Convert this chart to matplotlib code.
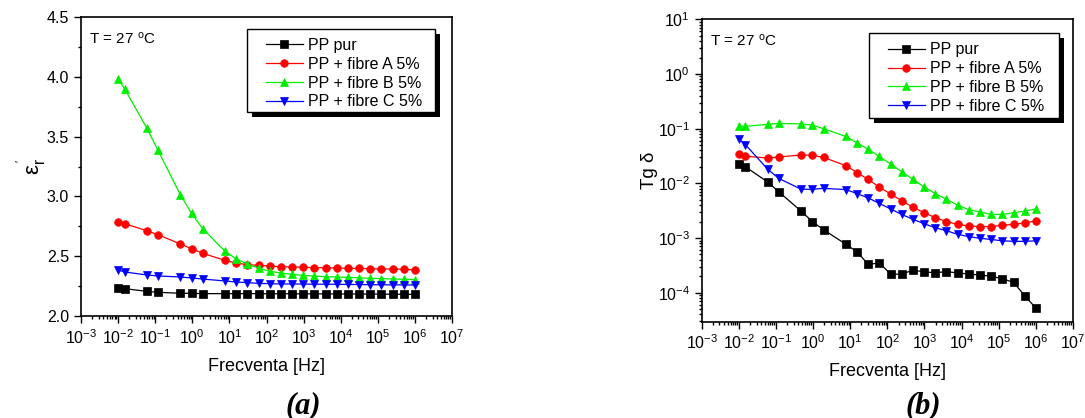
import matplotlib
matplotlib.use("Agg")
import matplotlib.pyplot as plt
from matplotlib.patches import Rectangle
from matplotlib.transforms import ScaledTranslation
from matplotlib.ticker import LogLocator, MultipleLocator, NullFormatter, FormatStrFormatter
import numpy as np

plt.rcParams['font.family'] = ['Liberation Sans', 'DejaVu Sans']
plt.rcParams['mathtext.fontset'] = 'custom'
plt.rcParams['mathtext.rm'] = 'Liberation Sans'
plt.rcParams['mathtext.it'] = 'Liberation Sans:italic'
plt.rcParams['mathtext.default'] = 'regular'

# Measurement frequencies [Hz]
freq = [0.01, 0.015, 0.0596, 0.119, 0.477, 0.954, 1.91, 7.63, 15.3, 30.5,
        61.0, 122, 244, 488, 977, 1953, 3906, 7813, 15625, 31250,
        62500, 125000, 250000, 500000, 1000000]

labels = ["PP pur", "PP + fibre A 5%", "PP + fibre B 5%", "PP + fibre C 5%"]

# Real part of the relative permittivity
eps_pur = [2.237, 2.229, 2.206, 2.198, 2.190, 2.190, 2.187, 2.187, 2.187, 2.187,
           2.187, 2.186, 2.186, 2.186, 2.185, 2.185, 2.185, 2.184, 2.184, 2.184,
           2.183, 2.183, 2.182, 2.182, 2.181]
eps_A = [2.789, 2.772, 2.713, 2.680, 2.602, 2.563, 2.524, 2.465, 2.443, 2.429,
         2.424, 2.418, 2.412, 2.410, 2.407, 2.404, 2.404, 2.401, 2.399, 2.398,
         2.396, 2.393, 2.393, 2.390, 2.387]
eps_B = [3.98, 3.90, 3.57, 3.385, 3.014, 2.858, 2.730, 2.541, 2.477, 2.435,
         2.401, 2.373, 2.360, 2.348, 2.340, 2.334, 2.329, 2.326, 2.323, 2.320,
         2.315, 2.312, 2.310, 2.307, 2.304]
eps_C = [2.385, 2.368, 2.343, 2.335, 2.326, 2.318, 2.309, 2.293, 2.284, 2.279,
         2.273, 2.270, 2.268, 2.268, 2.267, 2.266, 2.266, 2.265, 2.264, 2.263,
         2.262, 2.261, 2.260, 2.260, 2.259]

# Loss tangent
tg_pur = [0.0226, 0.0201, 0.0106, 0.0070, 0.0031, 0.0020, 0.00142, 0.00077, 0.00056, 0.00033,
          0.00035, 0.000220, 0.000217, 0.00026, 0.00024, 0.000232, 0.000243, 0.00023, 0.00022, 0.00021,
          0.00020, 0.00018, 0.000155, 0.000088, 0.0000523]
tg_A = [0.0344, 0.0313, 0.0291, 0.0303, 0.0331, 0.0326, 0.0298, 0.0211, 0.0157, 0.0118,
        0.0085, 0.0064, 0.0048, 0.00367, 0.0029, 0.00236, 0.0020, 0.00178, 0.00166, 0.00162,
        0.00162, 0.00171, 0.00178, 0.0019, 0.00204]
tg_B = [0.112, 0.110, 0.120, 0.125, 0.122, 0.116, 0.100, 0.072, 0.055, 0.042,
        0.031, 0.0226, 0.0164, 0.0118, 0.0086, 0.0065, 0.0051, 0.0040, 0.0033, 0.0030,
        0.0027, 0.0027, 0.0029, 0.0031, 0.0034]
tg_C = [0.0656, 0.0511, 0.0182, 0.0123, 0.0078, 0.0078, 0.0081, 0.0077, 0.0065, 0.0054,
        0.0043, 0.0034, 0.0027, 0.0022, 0.00183, 0.00154, 0.00136, 0.00117, 0.00106, 0.00099,
        0.00094, 0.00089, 0.00087, 0.00087, 0.00089]

colors = ["#000000", "#ff0000", "#00ee00", "#0000ff"]
markers = ["s", "o", "^", "v"]

W, H = 1085, 418
fig = plt.figure(figsize=(W / 100, H / 100), dpi=100)

ax_a = fig.add_axes([81 / W, 1 - 316 / H, 371 / W, 299 / H])
ax_b = fig.add_axes([701.7 / W, 1 - 321.7 / H, 371.3 / W, 302.4 / H])


def style_axes(ax):
    ax.set_xscale('log')
    ax.set_xlim(1e-3, 1e7)
    ax.xaxis.set_major_locator(LogLocator(base=10, numticks=20))
    ax.xaxis.set_minor_locator(LogLocator(base=10, subs=np.arange(2, 10), numticks=100))
    ax.xaxis.set_minor_formatter(NullFormatter())
    ax.tick_params(which='both', direction='out', top=False, right=False,
                   labelsize=11.5, width=1.0, color='black')
    ax.tick_params(which='major', length=5)
    ax.tick_params(which='minor', length=2.5)
    for s in ax.spines.values():
        s.set_linewidth(1.2)
    ax.set_xlabel("Frecventa [Hz]", fontsize=13, labelpad=8)
    ax.text(0.022, 0.955, r"T = 27 $^{\mathrm{o}}$C", transform=ax.transAxes,
            fontsize=11, va='top', ha='left')


series_a = [eps_pur, eps_A, eps_B, eps_C]
series_b = [tg_pur, tg_A, tg_B, tg_C]

for ax, series in ((ax_a, series_a), (ax_b, series_b)):
    for y, c, m, lab in zip(series, colors, markers, labels):
        ax.plot(freq, y, color=c, marker=m, markersize=5.5, linewidth=0.9,
                markeredgewidth=0.5, markeredgecolor=c, label=lab)
    style_axes(ax)

ax_a.set_ylim(2.0, 4.5)
ax_a.yaxis.set_major_locator(MultipleLocator(0.5))
ax_a.yaxis.set_minor_locator(MultipleLocator(0.25))
ax_a.yaxis.set_major_formatter(FormatStrFormatter('%.1f'))
ax_a.set_ylabel(r"$\varepsilon_{\mathrm{r}}^{\,'}$", fontsize=16, labelpad=-1)

ax_b.set_yscale('log')
ax_b.set_ylim(2.95e-5, 10)
ax_b.yaxis.set_major_locator(LogLocator(base=10, numticks=20))
ax_b.yaxis.set_minor_locator(LogLocator(base=10, subs=np.arange(2, 10), numticks=100))
ax_b.yaxis.set_minor_formatter(NullFormatter())
ax_b.set_ylabel("Tg δ", fontsize=13.5, labelpad=0)

# legend entries (frameless) plus a drawn frame with a solid drop shadow
legend_layout = [
    # axes, entries anchor (axes coords), frame (x0, y0, x1, y1) in axes coords
    (ax_a, (0.499, 0.930), (0.4474, 0.6823, 0.9542, 0.960)),
    (ax_b, (0.502, 0.924), (0.4506, 0.6736, 0.9623, 0.9547)),
]
for ax, anchor, (x0, y0, x1, y1) in legend_layout:
    leg = ax.legend(loc='upper left', bbox_to_anchor=anchor, fontsize=11.5,
                    frameon=False, handlelength=2.3, handletextpad=0.3,
                    labelspacing=0.24, borderpad=0, borderaxespad=0)
    leg.set_zorder(6)
    frame = Rectangle((x0, y0), x1 - x0, y1 - y0, transform=ax.transAxes,
                      facecolor='white', edgecolor='black', linewidth=1.0,
                      zorder=5.5, clip_on=False)
    ax.add_patch(frame)
    shadow = Rectangle((x0, y0), x1 - x0, y1 - y0,
                       transform=ax.transAxes + ScaledTranslation(
                           5 / 100, -5 / 100, fig.dpi_scale_trans),
                       facecolor='black', edgecolor='none', zorder=5.4, clip_on=False)
    ax.add_patch(shadow)

fig.text(303 / W, 1 - 391 / H, "(a)", fontsize=22, family='Liberation Serif',
         weight='bold', style='italic', ha='center', va='top')
fig.text(923 / W, 1 - 391 / H, "(b)", fontsize=22, family='Liberation Serif',
         weight='bold', style='italic', ha='center', va='top')

fig.savefig("out.png", dpi=100)
